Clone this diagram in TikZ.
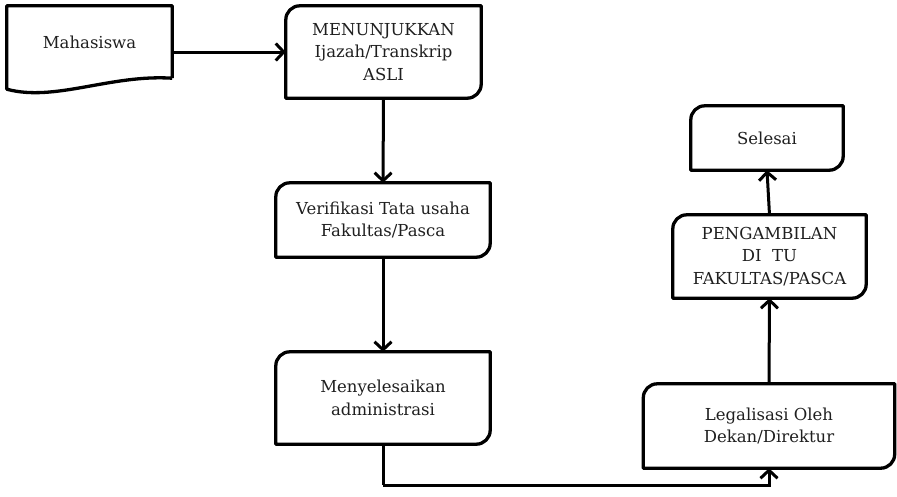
\documentclass[tikz,border=0pt]{standalone}
\usepackage{fontspec}
\setmainfont{DejaVu Serif}
\usetikzlibrary{arrows.meta}
\newcommand\diagcorner[1]{%
  \draw[boxline] (#1.north east) -- ([yshift=14pt]#1.south east)
    arc[start angle=0,end angle=-90,radius=14pt] -- (#1.south west)
    -- ([yshift=-14pt]#1.north west)
    arc[start angle=180,end angle=90,radius=14pt] -- cycle;}
\tikzset{
  boxline/.style={line width=3.3pt, line join=round},
  stepbox/.style={inner sep=0pt, align=center, text=black!88,
    font=\fontsize{16.5}{22.5}\selectfont},
  arr/.style={line width=3pt, -{Straight Barb[length=8pt,width=17pt,line width=3pt]}},
  link/.style={line width=3pt},
}
\begin{document}
\begin{tikzpicture}[x=1pt,y=-1pt]
\useasboundingbox (0,0) rectangle (897,496);
% document shape
\node[stepbox, minimum width=165pt, minimum height=72pt] (mhs) at (89.5,42) {Mahasiswa};
\draw[boxline] (mhs.south east) -- (mhs.north east) -- (mhs.north west)
  -- ([yshift=-11pt]mhs.south west)
  .. controls ([xshift=48pt,yshift=-24pt]mhs.south west) and ([xshift=-62pt,yshift=4pt]mhs.south east) .. (mhs.south east);
% boxes
\node[stepbox, minimum width=195pt, minimum height=92pt] (menu) at (383.5,52) {MENUNJUKKAN\\Ijazah/Transkrip\\ASLI};
\node[stepbox, minimum width=214pt, minimum height=74pt] (ver) at (383,220) {Verifikasi Tata usaha\\Fakultas/Pasca};
\node[stepbox, minimum width=214pt, minimum height=92pt] (men) at (383,398) {Menyelesaikan\\administrasi};
\node[stepbox, minimum width=251pt, minimum height=84pt] (leg) at (769,426) {Legalisasi Oleh\\Dekan/Direktur};
\node[stepbox, minimum width=193pt, minimum height=83pt] (pen) at (769.5,256.5) {PENGAMBILAN\\DI\ \ TU\\FAKULTAS/PASCA};
\node[stepbox, minimum width=152pt, minimum height=64pt] (sel) at (767,138) {Selesai};
\diagcorner{menu}
\diagcorner{ver}
\diagcorner{men}
\diagcorner{leg}
\diagcorner{pen}
\diagcorner{sel}
% connectors
\coordinate (bend) at (383,485);
\draw[arr] (mhs.east |- menu.west) -- (menu.west);
\draw[arr] (menu.south) -- (ver.north);
\draw[arr] (ver.south) -- (men.north);
\draw[link] (men.south) -- (bend);
\draw[arr] (bend) -| (leg.south);
\draw[arr] (leg.north) -- (pen.south);
\draw[arr] (pen.north) -- (sel.south);
\end{tikzpicture}
\end{document}
